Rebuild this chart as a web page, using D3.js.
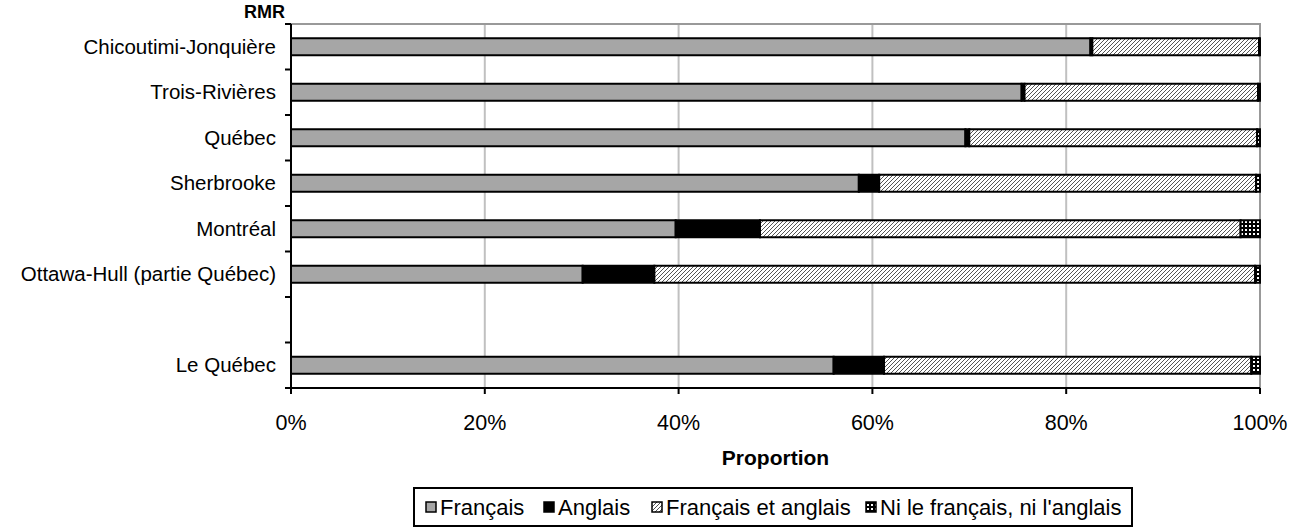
<html>
<head>
<meta charset="utf-8">
<script src="https://cdn.jsdelivr.net/npm/d3@7"></script>
<style>
  body { margin: 0; background: #fff; }
  text { font-family: "Liberation Sans", Arial, sans-serif; }
</style>
</head>
<body>
<svg width="1302" height="529"></svg>
<script>
// data (percent)
const categories = ["Chicoutimi-Jonquière", "Trois-Rivières", "Québec", "Sherbrooke",
                    "Montréal", "Ottawa-Hull (partie Québec)", "", "Le Québec"];
const francais   = [82.5, 75.4, 69.6, 58.6, 39.7, 30.1, null, 56.0];
const anglais    = [0.2, 0.3, 0.4, 2.1, 8.7, 7.4, null, 5.2];
const lesDeux    = [17.2, 24.1, 29.7, 38.9, 49.6, 62.0, null, 37.9];
const niFrNiAn   = [0.1, 0.2, 0.3, 0.4, 2.0, 0.5, null, 0.9];
const seriesNames = ["Français", "Anglais", "Français et anglais", "Ni le français, ni l'anglais"];
const xTicks = [0, 20, 40, 60, 80, 100];

const keys = ["fr", "an", "both", "ni"];
const rows = categories.map((c, i) => ({
  cat: c, fr: francais[i], an: anglais[i], both: lesDeux[i], ni: niFrNiAn[i]
})).filter(d => d.fr != null);

const svg = d3.select("svg");

// patterns
const defs = svg.append("defs");
const hatch = defs.append("pattern")
  .attr("id", "hatch").attr("patternUnits", "userSpaceOnUse")
  .attr("width", 4).attr("height", 4);
hatch.append("rect").attr("width", 4).attr("height", 4).attr("fill", "#fff");
hatch.append("path").attr("d", "M-1,1 l2,-2 M0,4 l4,-4 M3,5 l2,-2")
  .attr("stroke", "#555").attr("stroke-width", 1);

const dots = defs.append("pattern")
  .attr("id", "dots").attr("patternUnits", "userSpaceOnUse")
  .attr("width", 4).attr("height", 4);
dots.append("rect").attr("width", 4).attr("height", 4).attr("fill", "#000");
dots.append("rect").attr("x", 1).attr("y", 1).attr("width", 2).attr("height", 2).attr("fill", "#fff");

const fills = { fr: "#a6a6a6", an: "#000", both: "url(#hatch)", ni: "url(#dots)" };

const plotL = 291, plotR = 1260, plotT = 24, plotB = 388;

const x = d3.scaleLinear().domain([0, 100]).range([plotL, plotR]);
const y = d3.scaleBand().domain(categories).range([plotT, plotB]).paddingInner(0.6).paddingOuter(0.3);
const band = (plotB - plotT) / categories.length;

// gridlines
svg.append("g").selectAll("line")
  .data(xTicks.filter(t => t > 0 && t < 100))
  .join("line")
  .attr("x1", d => x(d)).attr("x2", d => x(d))
  .attr("y1", plotT).attr("y2", plotB)
  .attr("stroke", "#c0c0c0").attr("stroke-width", 2);

// plot border (top and right)
svg.append("path")
  .attr("d", `M${plotL},${plotT}H${plotR}V${plotB}`)
  .attr("fill", "none").attr("stroke", "#999").attr("stroke-width", 2);

// stacked bars
const stacked = d3.stack().keys(keys)(rows);
const barH = 17;
svg.append("g").selectAll("g")
  .data(stacked)
  .join("g")
  .attr("fill", d => fills[d.key])
  .selectAll("rect")
  .data(d => d)
  .join("rect")
  .attr("x", d => x(d[0]))
  .attr("width", d => x(d[1]) - x(d[0]))
  .attr("y", d => y(d.data.cat) + y.bandwidth() / 2 - barH / 2)
  .attr("height", barH)
  .attr("stroke", "#000").attr("stroke-width", 2);

// y axis: line and ticks at band edges
const yAxis = svg.append("g");
yAxis.append("line")
  .attr("x1", plotL).attr("x2", plotL).attr("y1", plotT).attr("y2", plotB + 5)
  .attr("stroke", "#000").attr("stroke-width", 2);
yAxis.selectAll(".tk")
  .data(d3.range(categories.length + 1))
  .join("line")
  .attr("x1", plotL - 6).attr("x2", plotL)
  .attr("y1", i => plotT + i * band).attr("y2", i => plotT + i * band)
  .attr("stroke", "#000").attr("stroke-width", 2);
yAxis.selectAll("text")
  .data(categories)
  .join("text")
  .attr("x", plotL - 15)
  .attr("y", d => y(d) + y.bandwidth() / 2)
  .attr("dy", "0.35em")
  .attr("text-anchor", "end")
  .attr("font-size", 20.5)
  .text(d => d);

// x axis
const xAxis = svg.append("g");
xAxis.append("line")
  .attr("x1", plotL).attr("x2", plotR).attr("y1", plotB).attr("y2", plotB)
  .attr("stroke", "#000").attr("stroke-width", 2);
xAxis.selectAll(".tk")
  .data(xTicks)
  .join("line")
  .attr("x1", d => x(d)).attr("x2", d => x(d))
  .attr("y1", plotB).attr("y2", plotB + 6)
  .attr("stroke", "#000").attr("stroke-width", 2);
xAxis.selectAll("text")
  .data(xTicks)
  .join("text")
  .attr("x", d => x(d))
  .attr("y", 422)
  .attr("dy", "0.35em")
  .attr("text-anchor", "middle")
  .attr("font-size", 21.5)
  .text(d => d + "%");

// axis titles
svg.append("text")
  .attr("x", (plotL + plotR) / 2).attr("y", 458).attr("dy", "0.35em")
  .attr("text-anchor", "middle").attr("font-size", 21).attr("font-weight", "bold")
  .text("Proportion");
svg.append("text")
  .attr("x", 285).attr("y", 12).attr("dy", "0.35em")
  .attr("text-anchor", "end").attr("font-size", 18).attr("font-weight", "bold")
  .text("RMR");

// legend
const legend = svg.append("g");
legend.append("rect")
  .attr("x", 414).attr("y", 488).attr("width", 718).attr("height", 38)
  .attr("fill", "#fff").attr("stroke", "#000").attr("stroke-width", 2);
const legX = [426, 544, 652, 866];
const items = legend.selectAll("g.item")
  .data(keys)
  .join("g")
  .attr("transform", (d, i) => `translate(${legX[i]},507)`);
items.append("rect")
  .attr("x", 0).attr("y", -5).attr("width", 10).attr("height", 10)
  .attr("fill", d => fills[d]).attr("stroke", "#000").attr("stroke-width", 1.5);
items.append("text")
  .attr("x", 14).attr("dy", "0.35em")
  .attr("font-size", 22)
  .text((d, i) => seriesNames[i]);
</script>
</body>
</html>
